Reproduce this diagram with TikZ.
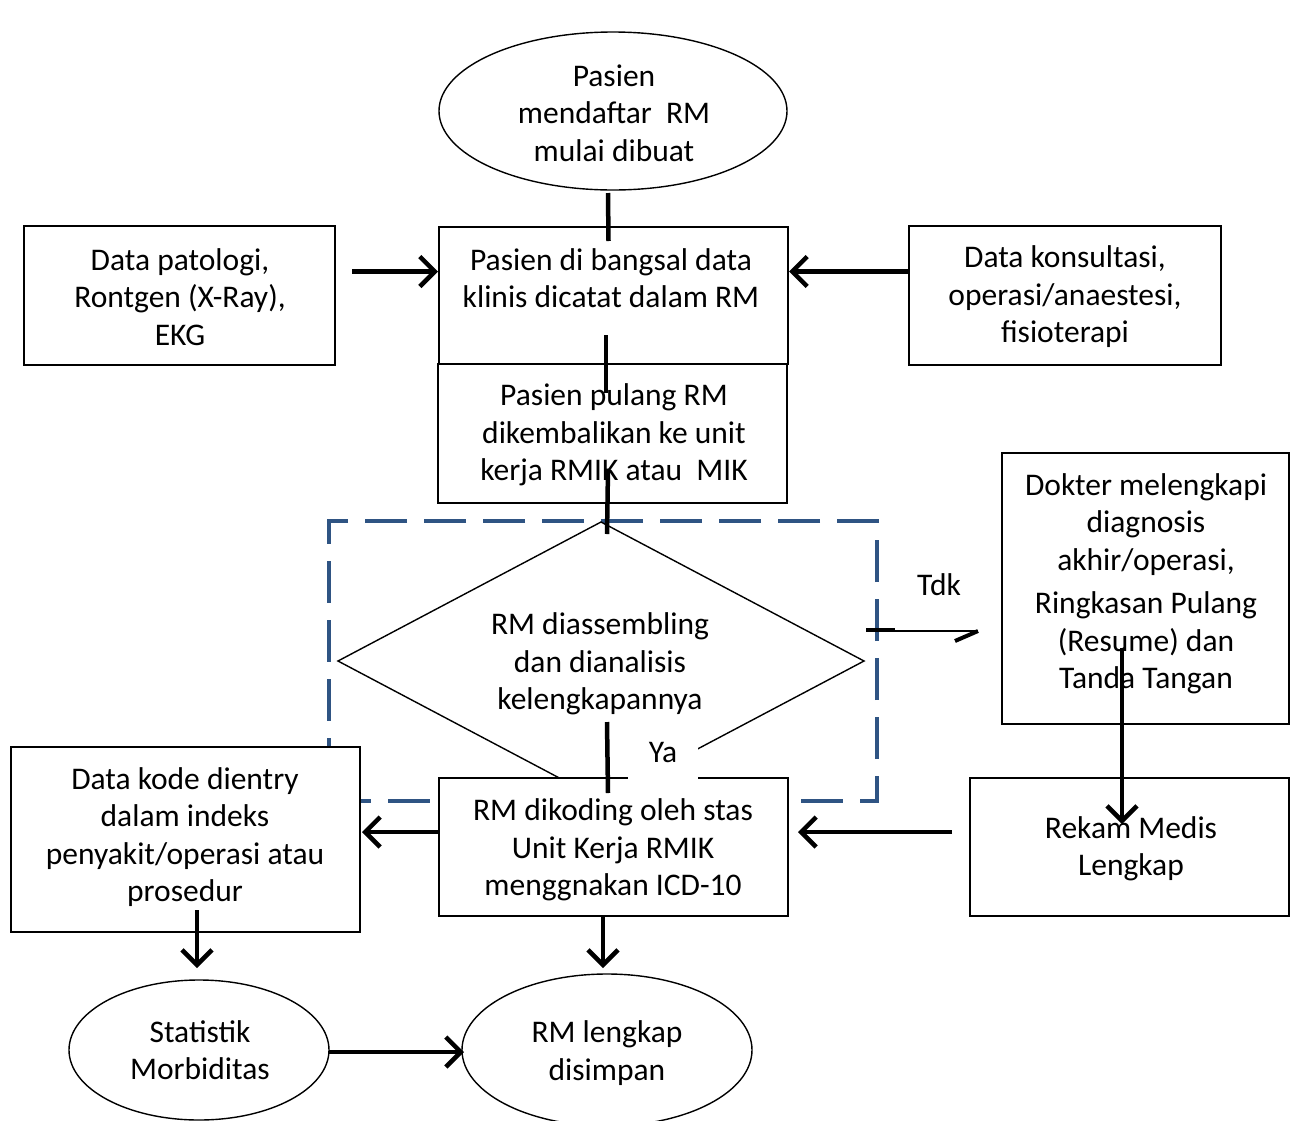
\documentclass[tikz,border=0pt]{standalone}
\usepackage{fontspec}
\setmainfont{Carlito}
\usetikzlibrary{shapes.geometric,arrows.meta,calc}
\definecolor{loopblue}{HTML}{2F5483}
\begin{document}
\begin{tikzpicture}[x=1pt,y=-1pt,
  every node/.style={inner sep=0pt, outer sep=0pt},
  box/.style={draw, fill=white, line width=1.4pt, rectangle},
  oval/.style={draw, fill=white, line width=1.4pt, ellipse},
  txt/.style={align=center, font=\fontsize{31.5}{37.5}\selectfont},
  conn/.style={line width=4.5pt},
  arr/.style={conn, -{Straight Barb[length=15pt,width=30pt]}}]
\useasboundingbox (0,0) rectangle (1294,1120);

% dashed frame round the completeness check
\node[draw=loopblue, line width=4pt, dash pattern=on 42pt off 17pt,
      minimum width=548pt, minimum height=280pt] (loop) at (603,661) {};
% decision
\node[draw, line width=1.4pt, diamond, aspect=1.9,
      minimum width=526pt, minimum height=278pt] (check) at (601,661) {};

% shapes
\node[oval, minimum width=348pt, minimum height=158pt] (start) at (613,111) {};
\node[box, minimum width=349pt, minimum height=137pt] (ward) at (613.5,295.5) {};
\node[box, minimum width=349pt, minimum height=139pt] (home) at (612.5,433.5) {};
\node[box, minimum width=311pt, minimum height=139pt] (patho) at (179.5,295.5) {};
\node[box, minimum width=312pt, minimum height=139pt] (consult) at (1065,295.5) {};
\node[box, minimum width=287pt, minimum height=271pt] (doctor) at (1145.5,588.5) {};
\node[box, minimum width=349pt, minimum height=185pt] (index) at (185.5,839.5) {};
\node[box, minimum width=349pt, minimum height=138pt] (coding) at (613.5,847) {};
\node[box, minimum width=319pt, minimum height=138pt] (full) at (1129.5,847) {};
\node[oval, minimum width=260pt, minimum height=140pt] (stats) at (199,1050) {};
\node[oval, minimum width=290pt, minimum height=152pt] (store) at (607,1050) {};

% texts
\node[txt] (tstart) at (614,113) {Pasien\\mendaftar\ \ RM\\mulai dibuat};
\node[txt] (tward) at (611,278) {Pasien di bangsal data\\klinis dicatat dalam RM};
\node[txt] (thome) at (614,435) {Pasien pulang RM\\dikembalikan ke unit\\kerja RMIK atau\ \ MIK};
\node[txt] (tpatho) at (180,297) {Data patologi,\\Rontgen (X-Ray),\\EKG};
\node[txt] (tconsult) at (1065,297) {Data konsultasi,\\operasi/anaestesi,\\fisioterapi};
\node[txt] (tdoctor) at (1146,584) {Dokter melengkapi\\diagnosis\\akhir/operasi,\\[6pt]Ringkasan Pulang\\(Resume) dan\\Tanda Tangan};
\node[txt] (tcheck) at (600,664) {RM diassembling\\dan dianalisis\\kelengkapannya};
\node[txt] (tindex) at (185,837) {Data kode dientry\\dalam indeks\\penyakit/operasi atau\\prosedur};
\node[txt] (tcoding) at (613,850) {RM dikoding oleh stas\\Unit Kerja RMIK\\menggnakan ICD-10};
\node[txt] (tfull) at (1131,849) {Rekam Medis\\Lengkap};
\node[txt] (tstats) at (200,1050) {Statistik\\Morbiditas};
\node[txt] (tstore) at (607,1053) {RM lengkap\\disimpan};
\node[txt] (no) at (939,585) {Tdk};
\node[txt, fill=white, minimum width=70pt, minimum height=56pt] (yes) at (663,754) {};
\node[txt] (yeslabel) at (663,752) {Ya};

% connectors
\draw[conn] ($(start.south)+(-5,3)$) -- ($(ward.north)+(-5,14)$);
\draw[conn] ($(ward.south)+(-7.5,-29)$) -- ($(home.north)+(-6.5,29)$);
\draw[conn] ($(home.south)+(-4.5,-33)$) -- ($(check.north)+(6,12)$);
\draw[conn] ($(check.south)+(6,-78)$) -- ($(coding.north)+(-5.5,15)$);
\draw[arr] ($(patho.east)+(17,-24)$) -- ($(ward.west)+(-1,-24)$);
\draw[arr] ($(consult.west)+(0,-24)$) -- ($(ward.east)+(1,-24)$);
\draw[arr] ($(coding.west)+(0,-15)$) -- ($(index.east)+(2,-7.5)$);
\draw[arr] ($(full.west)+(-18,-15)$) -- ($(coding.east)+(10,-15)$);
\draw[arr] ($(doctor.south)+(-23.5,-76)$) -- ($(full.north)+(-7.5,46)$);
\draw[arr] ($(index.south)+(11.5,-22)$) -- ($(stats.north)+(-2,-12)$);
\draw[arr] ($(coding.south)+(-10.5,0)$) -- ($(store.north)+(-4,-6)$);
\draw[arr] ($(stats.east)+(0,2)$) -- ($(store.west)+(2,2)$);

% "Tdk" branch towards the doctor
\coordinate (notip) at ($(doctor.west)+(-24,42.5)$);
\draw[line width=1.4pt] ($(loop.east)+(-11,-30)$) -- (notip);
\draw[line width=4pt] ($(loop.east)+(-11,-31.5)$) -- ++(29,0);
\draw[line width=4pt] (notip) -- ++(-23,10);
\end{tikzpicture}
\end{document}
